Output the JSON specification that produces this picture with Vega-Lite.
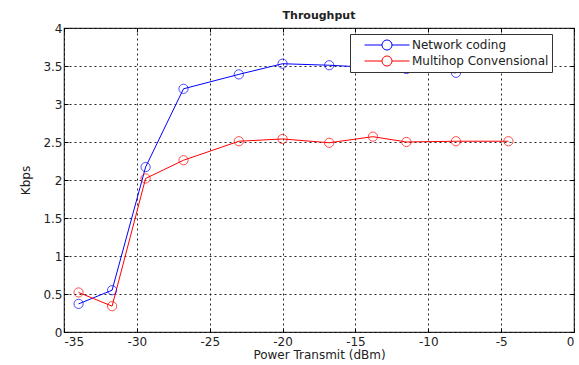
{
  "$schema": "https://vega.github.io/schema/vega-lite/v6.json",
  "width": 510,
  "height": 304,
  "autosize": "none",
  "padding": {"left": 64, "top": 28, "right": 5, "bottom": 33},
  "background": "white",
  "title": {"text": "Throughput", "fontSize": 11, "fontWeight": "bold", "font": "DejaVu Sans", "color": "#222", "offset": 1},
  "config": {
    "view": {"stroke": "#333", "strokeWidth": 1.2},
    "axis": {"labelFont": "DejaVu Sans", "titleFont": "DejaVu Sans", "labelColor": "#222", "titleColor": "#222", "labelFontSize": 12, "titleFontSize": 12, "titleFontWeight": "normal"}
  },
  "data": {
    "values": [
      {"series": "Network coding", "power": -34, "kbps": 0.37},
      {"series": "Network coding", "power": -31.7, "kbps": 0.55},
      {"series": "Network coding", "power": -29.4, "kbps": 2.17},
      {"series": "Network coding", "power": -26.8, "kbps": 3.2},
      {"series": "Network coding", "power": -23, "kbps": 3.39},
      {"series": "Network coding", "power": -20, "kbps": 3.53},
      {"series": "Network coding", "power": -16.8, "kbps": 3.51},
      {"series": "Network coding", "power": -13.8, "kbps": 3.48},
      {"series": "Network coding", "power": -11.5, "kbps": 3.46},
      {"series": "Network coding", "power": -8.1, "kbps": 3.41},
      {"series": "Multihop Convensional", "power": -34, "kbps": 0.52},
      {"series": "Multihop Convensional", "power": -31.7, "kbps": 0.34},
      {"series": "Multihop Convensional", "power": -29.4, "kbps": 2.02},
      {"series": "Multihop Convensional", "power": -26.8, "kbps": 2.26},
      {"series": "Multihop Convensional", "power": -23, "kbps": 2.51},
      {"series": "Multihop Convensional", "power": -20, "kbps": 2.54},
      {"series": "Multihop Convensional", "power": -16.8, "kbps": 2.49},
      {"series": "Multihop Convensional", "power": -13.8, "kbps": 2.57},
      {"series": "Multihop Convensional", "power": -11.5, "kbps": 2.5},
      {"series": "Multihop Convensional", "power": -8.1, "kbps": 2.51},
      {"series": "Multihop Convensional", "power": -4.5, "kbps": 2.51}
    ]
  },
  "layer": [
    {
      "mark": {"type": "line", "strokeWidth": 1},
      "encoding": {
        "x": {"field": "power", "type": "quantitative", "scale": {"domain": [-35, 0], "nice": false, "zero": false},
          "axis": {"orient": "bottom", "values": [-35, -30, -25, -20, -15, -10, -5, 0], "labelExpr": "replace(datum.label, '\u2212', '-')", "title": "Power Transmit (dBm)", "grid": true, "gridColor": "black", "gridDash": [2, 3], "gridOpacity": 0.85, "domain": false, "tickSize": -4, "tickColor": "black", "labelPadding": 8, "titlePadding": 2}},
        "y": {"field": "kbps", "type": "quantitative", "scale": {"domain": [0, 4], "nice": false},
          "axis": {"orient": "left", "values": [0, 0.5, 1, 1.5, 2, 2.5, 3, 3.5, 4], "format": ".1~f", "title": "Kbps", "grid": true, "gridColor": "black", "gridDash": [2, 3], "gridOpacity": 0.85, "domain": false, "tickSize": -4, "tickColor": "black", "labelPadding": 6, "titlePadding": 10}},
        "color": {"field": "series", "type": "nominal",
          "scale": {"domain": ["Network coding", "Multihop Convensional"], "range": ["#0000ff", "#ff0000"]},
          "legend": {"orient": "none", "legendX": 286, "legendY": 6, "title": null, "strokeColor": "#333", "fillColor": "white", "padding": 3, "rowPadding": 0, "labelFont": "DejaVu Sans", "labelFontSize": 12, "labelColor": "#222", "labelLimit": 300, "labelExpr": "datum.label + '\u00a0\u00a0\u00a0'",
            "symbolType": "M-3,0L-0.67,0M0.67,0L3,0M-0.67,0A0.67,0.67,0,1,1,0.67,0A0.67,0.67,0,1,1,-0.67,0", "symbolSize": 225, "symbolStrokeWidth": 1, "symbolOffset": 26, "labelOffset": 17, "symbolFillColor": "transparent"}}
      }
    },
    {
      "mark": {"type": "point", "shape": "circle", "filled": false, "size": 85, "strokeWidth": 1},
      "encoding": {
        "x": {"field": "power", "type": "quantitative", "axis": {"orient": "top", "values": [-35, -30, -25, -20, -15, -10, -5, 0], "labels": false, "title": null, "grid": false, "domain": false, "tickSize": -4, "tickColor": "black"}},
        "y": {"field": "kbps", "type": "quantitative", "axis": {"orient": "right", "values": [0, 0.5, 1, 1.5, 2, 2.5, 3, 3.5, 4], "labels": false, "title": null, "grid": false, "domain": false, "tickSize": -4, "tickColor": "black"}},
        "color": {"field": "series", "type": "nominal", "legend": null}
      }
    }
  ],
  "resolve": {"axis": {"x": "independent", "y": "independent"}}
}
